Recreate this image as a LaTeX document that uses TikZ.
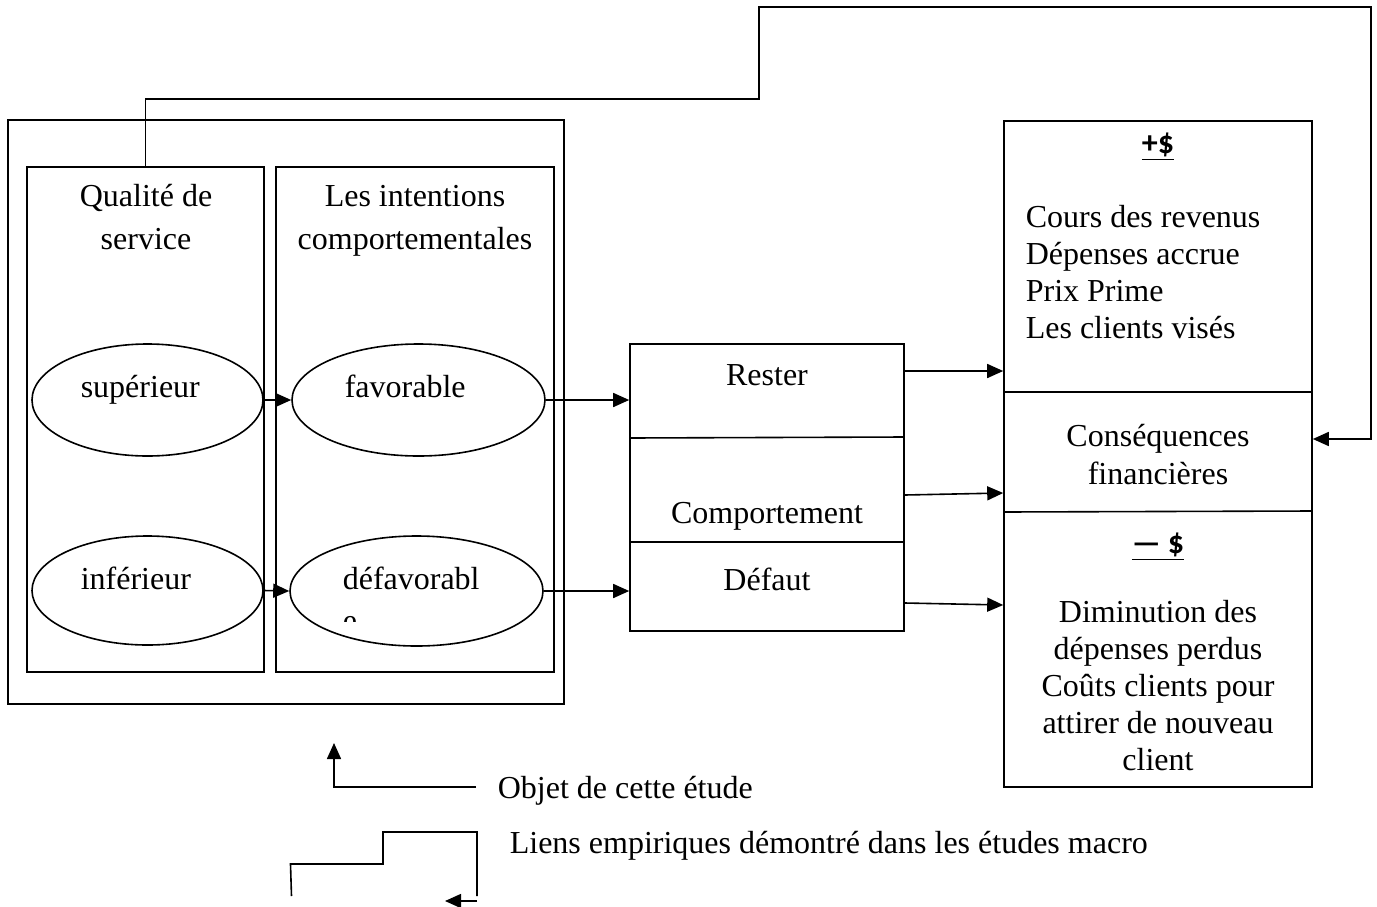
\documentclass[tikz,border=0pt]{standalone}
\usepackage{fontspec}
\setmainfont{Liberation Serif}
\newfontfamily\sanslabel{Carlito}
\usetikzlibrary{arrows.meta,shapes.geometric}
\begin{document}
\begin{tikzpicture}[x=0.5pt,y=-0.5pt,
  line width=0.8pt,
  txt/.style={font=\fontsize{16pt}{18.5pt}\selectfont, inner sep=0pt},
  boxed/.style={draw, inner sep=0pt},
  oval/.style={draw, ellipse, inner sep=0pt},
  arr/.style={-{Triangle[length=8pt,width=7pt]}},
  sign/.style={font=\fontsize{16pt}{18pt}\sanslabel\bfseries, inner sep=0pt}
]
\useasboundingbox (0,0) rectangle (1377,906);

% left frame and its two columns
\node[boxed, minimum width=278pt, minimum height=292pt] (outer) at (286,412) {};
\node[boxed, minimum width=118.5pt, minimum height=252.5pt] (qual) at (145.5,419.5) {};
\node[boxed, minimum width=139pt, minimum height=252.5pt] (intent) at (415,419.5) {};

% multi-line labels are placed by the baseline of their last line
\node[txt, align=center, anchor=base, font=\fontsize{16pt}{21.5pt}\selectfont] (qualtxt) at (146,249) {Qualité de\\service};
\node[txt, align=center, anchor=base, font=\fontsize{16pt}{21.5pt}\selectfont] (intenttxt) at (415,249) {Les intentions\\comportementales};

% ellipses
\node[oval, minimum width=115.5pt, minimum height=56pt] (sup) at (147.5,400) {};
\node[oval, minimum width=126.5pt, minimum height=56pt] (fav) at (418.5,400) {};
\node[oval, minimum width=115.5pt, minimum height=54.5pt] (inf) at (147.5,590.5) {};
\node[oval, minimum width=126.5pt, minimum height=55pt] (defav) at (416.5,591) {};

\node[txt, anchor=base west] (suptxt) at (80,397) {supérieur};
\node[txt, anchor=base west] (favtxt) at (344,397) {favorable};
\node[txt, anchor=base west] (inftxt) at (80,589) {inférieur};
\node[txt, anchor=base west] (defavtxt) at (342,589) {défavorabl};
\begin{scope}
  \clip (330,600) rectangle (420,621.5);
  \node[txt, anchor=base west] (defavtail) at (342,631) {e};
\end{scope}

% behaviour box
\node[boxed, minimum width=137pt, minimum height=143.5pt] (mid) at (767,487.5) {};
\draw (mid.west |- 0,438) -- (mid.east |- 0,437);
\draw (mid.west |- 0,542) -- (mid.east |- 0,542);
\node[txt, anchor=base] (rester) at (767,385) {Rester};
\node[txt, anchor=base] (comport) at (767,523) {Comportement};
\node[txt, anchor=base] (defaut) at (767,590) {Défaut};

% financial consequences box
\node[boxed, minimum width=154pt, minimum height=333pt] (right) at (1158,454) {};
\draw (right.west |- 0,392) -- (right.east |- 0,392);
\draw (right.west |- 0,512) -- (right.east |- 0,511);
\node[sign, anchor=base] (plus) at (1158,153) {\underline{+\$}};
\node[txt, align=left, anchor=base west] (gains) at (1025,338)
  {Cours des revenus\\Dépenses accrue\\Prix Prime\\Les clients visés};
\node[txt, align=center, anchor=base, font=\fontsize{16pt}{19pt}\selectfont] (conseq) at (1158,484)
  {Conséquences\\financières};
\node[sign, anchor=base] (minus) at (1158,553) {\underline{— \$}};
\node[txt, align=center, anchor=base] (losses) at (1158,770)
  {Diminution des\\dépenses perdus\\Coûts clients pour\\attirer de nouveau\\client};

% connectors
\draw[arr] (sup.east) -- (fav.west);
\draw[arr] (inf.east) -- (defav.west);
\draw[arr] (fav.east) -- (mid.west |- fav.east);
\draw[arr] (defav.east) -- (mid.west |- defav.east);
\draw[arr] (mid.east |- 0,371) -- (right.west |- 0,371);
\draw[arr] (mid.east |- 0,495) -- (right.west |- 0,493);
\draw[arr] (mid.east |- 0,603) -- (right.west |- 0,605);

% feedback loop from service quality to financial consequences
\coordinate (fb1) at (145.5,99);
\coordinate (fb2) at (759,99);
\coordinate (fb3) at (759,7);
\coordinate (fb4) at (1371,7);
\coordinate (fb5) at (1371,439);
\draw[arr] (qual.north) -- (fb1) -- (fb2) -- (fb3) -- (fb4) -- (fb5) -- (right.east |- fb5);

% legend
\coordinate (lg1) at (476,787);
\coordinate (lg2) at (334,743);
\draw[arr] (lg1) -| (lg2);
\node[txt, anchor=base west] (objet) at (497,798) {Objet de cette étude};

\coordinate (lk1) at (291.5,896);
\coordinate (lk2) at (290.5,864);
\coordinate (lk3) at (383,864);
\coordinate (lk4) at (383,832);
\coordinate (lk5) at (477,832);
\coordinate (lk6) at (477,896);
\draw (lk1) -- (lk2) -- (lk3) -- (lk4) -- (lk5) -- (lk6);
\coordinate (lk7) at (477,901);
\coordinate (lk8) at (445,901);
\draw[arr] (lk7) -- (lk8);
\node[txt, anchor=base west] (liens) at (509,853) {Liens empiriques démontré dans les études macro};
\end{tikzpicture}
\end{document}
